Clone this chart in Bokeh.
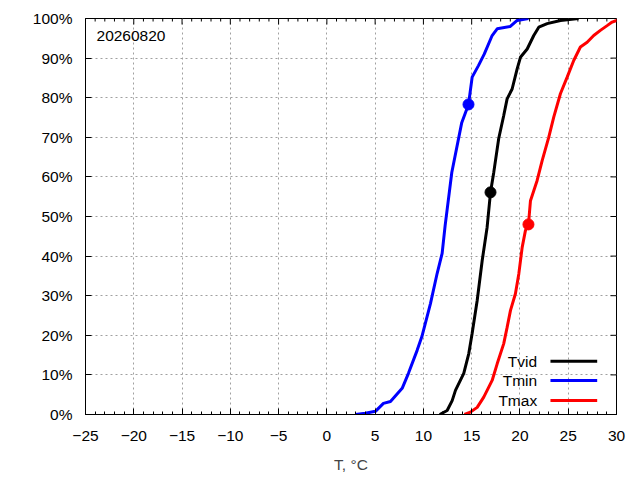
from bokeh.plotting import figure
from bokeh.models import (LinearAxis, SingleIntervalTicker, PrintfTickFormatter,
                          Range1d, Label, Grid)
from bokeh.embed import file_html
from bokeh.resources import INLINE

# ---- data ----
date_label = "20260820"
series_names = ["Tvid", "Tmin", "Tmax"]
series_colors = ["#000000", "#0000ff", "#ff0000"]

tvid_t = [11.69, 12.46, 12.98, 13.32, 14.18, 14.70, 15.05, 15.57, 16.09, 16.60, 16.95,
          17.29, 17.80, 18.32, 18.67, 19.19, 19.71, 20.05, 20.75, 21.43, 21.95, 22.82,
          24.2, 26.06]
tvid_p = [0, 1.0, 3.5, 6.1, 10.4, 15.4, 20.5, 28.8, 38.9, 47.3, 56.1,
          61.2, 69.7, 75.5, 79.7, 82.2, 87.3, 90.2, 92.3, 95.7, 97.8, 98.7,
          99.5, 100]

tmin_t = [2.96, 4.0, 5.03, 5.86, 6.59, 7.80, 8.45, 9.35, 9.87, 10.73, 11.42, 11.94,
          12.25, 12.94, 13.97, 14.67, 15.05, 15.7, 16.3, 17.12, 17.64, 19.0, 19.71, 20.88]
tmin_p = [0, 0.3, 0.8, 2.8, 3.3, 6.6, 10.4, 16.2, 19.9, 28.0, 35.6, 40.7,
          47.7, 61.1, 73.7, 78.3, 85.2, 88.1, 91.0, 95.7, 97.4, 98.0, 99.5, 100]

tmax_t = [14.25, 14.87, 15.57, 16.25, 17.12, 17.64, 18.32, 18.67, 19.02, 19.53, 19.88,
          20.23, 20.57, 20.88, 21.09, 21.78, 22.30, 22.98, 23.50, 24.19, 24.89, 25.57,
          26.26, 26.96, 27.64, 28.33, 29.03, 29.55, 30.0, 30.5]
tmax_p = [0, 0.6, 1.8, 4.4, 8.6, 12.8, 17.9, 22.0, 26.3, 30.5, 35.5,
          42.2, 46.5, 48.0, 54.0, 59.1, 64.1, 70.0, 75.1, 81.0, 85.2, 89.4,
          92.8, 94.0, 95.7, 97.0, 98.2, 99.1, 99.5, 100]

# current-day markers
marker_t = [16.95, 14.67, 20.88]
marker_p = [56.1, 78.3, 48.0]

x_range = (-25, 30)
y_range = (0, 100)
x_major_ticks = list(range(-25, 31, 5))
x_minor_ticks = [v for v in range(-25, 31) if v % 5 != 0]
y_major_ticks = list(range(0, 101, 10))

FONT = "Liberation Sans"
FS = "15.5px"
FRAME_W, FRAME_H = 531, 396

p = figure(frame_width=FRAME_W, frame_height=FRAME_H,
           min_border_left=85, min_border_top=18, min_border_right=10, min_border_bottom=50,
           x_range=Range1d(*x_range), y_range=Range1d(*y_range),
           output_backend="svg", toolbar_location=None,
           x_axis_type=None, y_axis_type=None)
p.background_fill_color = "white"
p.border_fill_color = "white"
p.outline_line_color = "black"
p.outline_line_width = 1

xt = SingleIntervalTicker(interval=5, num_minor_ticks=5)
yt = SingleIntervalTicker(interval=10, num_minor_ticks=0)


def style_axis(ax):
    ax.axis_line_color = "black"
    ax.major_tick_in = 6
    ax.major_tick_out = 0
    ax.minor_tick_in = 3
    ax.minor_tick_out = 0
    ax.major_tick_line_color = "black"
    ax.minor_tick_line_color = "black"
    ax.major_label_text_font = FONT
    ax.major_label_text_color = "black"
    ax.major_label_text_font_size = FS


xb = LinearAxis(ticker=xt, axis_label="T, °C")
style_axis(xb)
xb.major_label_standoff = 16
xb.axis_label_text_font = FONT
xb.axis_label_text_font_size = FS
xb.axis_label_text_font_style = "normal"
xb.axis_label_standoff = 12
p.add_layout(xb, "below")

yl = LinearAxis(ticker=yt, formatter=PrintfTickFormatter(format="%d%%"))
style_axis(yl)
yl.minor_tick_in = 0
yl.major_label_standoff = 13
p.add_layout(yl, "left")

for dim, tk in ((0, xt), (1, yt)):
    g = Grid(dimension=dim, ticker=tk)
    g.grid_line_color = "#a0a0a0"
    g.grid_line_dash = "2 3"
    g.grid_line_width = 1
    p.add_layout(g)

# mirrored inward ticks on top and right borders
dx_per_px = (x_range[1] - x_range[0]) / FRAME_W
dy_per_px = (y_range[1] - y_range[0]) / FRAME_H
top = y_range[1]
right = x_range[1]
p.segment(x0=x_major_ticks, y0=[top] * len(x_major_ticks),
          x1=x_major_ticks, y1=[top - 6 * dy_per_px] * len(x_major_ticks),
          line_color="black", line_width=1)
p.segment(x0=x_minor_ticks, y0=[top] * len(x_minor_ticks),
          x1=x_minor_ticks, y1=[top - 3 * dy_per_px] * len(x_minor_ticks),
          line_color="black", line_width=1)
p.segment(x0=[right] * len(y_major_ticks), y0=y_major_ticks,
          x1=[right - 6 * dx_per_px] * len(y_major_ticks), y1=y_major_ticks,
          line_color="black", line_width=1)

series_t = [tvid_t, tmin_t, tmax_t]
series_p = [tvid_p, tmin_p, tmax_p]
for t, pr, c in zip(series_t, series_p, series_colors):
    p.line(t, pr, line_color=c, line_width=3)

p.scatter(marker_t, marker_p, size=11, fill_color=series_colors,
          line_color=series_colors, marker="circle")

# date label
p.add_layout(Label(x=-23.86, y=95.7, text=date_label, text_font=FONT,
                   text_font_size=FS, text_baseline="middle", text_align="left",
                   text_color="black"))

# gnuplot-style key: text right-aligned, sample line at right
key_text_x = 21.78
key_line_x0, key_line_x1 = 23.16, 28.0
key_rows_p = [13.46, 8.59, 3.54]
for name, c, yy in zip(series_names, series_colors, key_rows_p):
    p.add_layout(Label(x=key_text_x, y=yy, text=name, text_font=FONT,
                       text_font_size=FS, text_baseline="middle", text_align="right",
                       text_color="black"))
    p.line([key_line_x0, key_line_x1], [yy, yy], line_color=c, line_width=3)

open("out.html", "w").write(file_html(p, INLINE))
